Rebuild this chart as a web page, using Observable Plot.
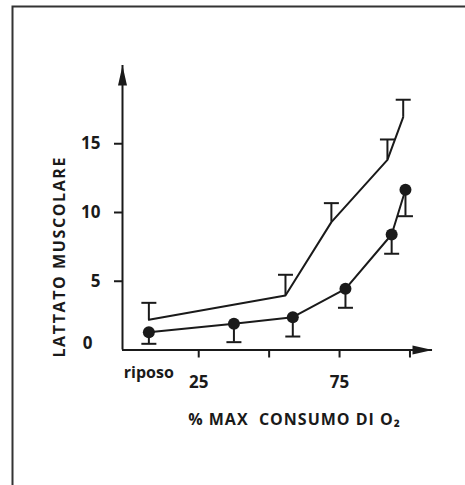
<!DOCTYPE html>
<html><head><meta charset="utf-8">
<script src="https://cdn.jsdelivr.net/npm/d3@7"></script>
<script src="https://cdn.jsdelivr.net/npm/@observablehq/plot@0.6"></script>
<style>
body{margin:0;background:#fff;}
#chart svg{display:block;}
</style>
</head><body><div id="chart"></div>
<script>
// ---- data ----
const xTitle = "% MAX  CONSUMO DI O₂";
const yTitle = "LATTATO MUSCOLARE";
const yTicks = [5, 10, 15];
const yZeroTick = [0];
const xTicks = [25, 50, 75, 100];
const xTickLabels = ["25", "", "75", ""];
const restX = [7.3];
const restLabel = "riposo";

// lower series (filled circles, error bars downward)
const lowX = [7.3, 37.5, 58.4, 77.1, 93.5, 98.4];
const lowY = [1.29, 1.91, 2.39, 4.45, 8.40, 11.65];
const lowErrEnd = [0.45, 0.57, 0.98, 3.07, 7.0, 9.73];

// upper series (line only, error bars upward)
const upX = [7.3, 55.8, 72.1, 92.0, 97.6];
const upY = [2.2, 3.96, 9.3, 13.83, 16.93];
const upErrEnd = [3.43, 5.47, 10.68, 15.31, 18.2];

const xDomain = [-2.06, 108];
const yDomain = [0, 20.69];

// ---- drawing ----
const ink = "#1a1a1a";
const arrowUp = {draw(c){ c.moveTo(0,0); c.lineTo(4.5,20); c.lineTo(-4.5,20); c.closePath(); }};
const arrowRight = {draw(c){ c.moveTo(0,0); c.lineTo(-20,-4.5); c.lineTo(-20,4.5); c.closePath(); }};
const cap = {draw(c){ c.moveTo(-7.5,0); c.lineTo(7.5,0); }};

const low = lowX.map((x, i) => ({x, y: lowY[i], e: lowErrEnd[i]}));
const up = upX.map((x, i) => ({x, y: upY[i], e: upErrEnd[i]}));

const chart = Plot.plot({
  width: 465,
  height: 485,
  marginLeft: 122,
  marginRight: 33,
  marginTop: 65,
  marginBottom: 135.5,
  style: {fontFamily: "'Open Sans', sans-serif", fontWeight: "700", color: ink, background: "#fff"},
  x: {domain: xDomain, axis: null},
  y: {domain: yDomain, axis: null},
  marks: [
    Plot.frame({stroke: "#333", strokeWidth: 2, insetLeft: -110, insetTop: -59, insetRight: -60, insetBottom: -160}),
    // axes lines and arrows
    Plot.ruleX([xDomain[0]], {stroke: ink, strokeWidth: 2}),
    Plot.ruleY([0], {stroke: ink, strokeWidth: 2}),
    Plot.dot([{x: xDomain[0], y: yDomain[1]}], {x: "x", y: "y", symbol: arrowUp, fill: ink, stroke: "none"}),
    Plot.dot([{x: xDomain[1], y: 0}], {x: "x", y: "y", symbol: arrowRight, fill: ink, stroke: "none"}),
    // ticks and labels
    Plot.axisY(yTicks, {tickSize: 8, tickPadding: 14, strokeWidth: 2, stroke: ink, fontSize: 17, label: null}),
    Plot.axisY(yZeroTick, {tickSize: 0, tickPadding: 30, dy: -6, fontSize: 17, label: null}),
    Plot.axisX(xTicks, {tickSize: 8, tickPadding: 18, strokeWidth: 2, stroke: ink, fontSize: 17, label: null,
      tickFormat: d => xTickLabels[xTicks.indexOf(d)]}),
    Plot.axisX(restX, {tickSize: 0, tickPadding: 17, fontSize: 16, label: null, tickFormat: () => restLabel}),
    // titles
    Plot.text([yTitle], {frameAnchor: "left", textAnchor: "middle", lineAnchor: "middle", rotate: -90, dx: -63, dy: 49, fontSize: 16, fill: ink}),
    Plot.text([xTitle], {frameAnchor: "bottom", textAnchor: "middle", lineAnchor: "middle", dx: 17, dy: 70, fontSize: 16, fill: ink}),
    // upper series
    Plot.line(up, {x: "x", y: "y", stroke: ink, strokeWidth: 2}),
    Plot.ruleX(up, {x: "x", y1: "y", y2: "e", stroke: ink, strokeWidth: 2}),
    Plot.dot(up, {x: "x", y: "e", symbol: cap, stroke: ink, strokeWidth: 2, fill: "none"}),
    // lower series
    Plot.line(low, {x: "x", y: "y", stroke: ink, strokeWidth: 2}),
    Plot.ruleX(low, {x: "x", y1: "y", y2: "e", stroke: ink, strokeWidth: 2}),
    Plot.dot(low, {x: "x", y: "e", symbol: cap, stroke: ink, strokeWidth: 2, fill: "none"}),
    Plot.dot(low, {x: "x", y: "y", r: 6, fill: ink, stroke: "none"})
  ]
});
// letter spacing of the two titles (typographic style only)
d3.select(chart).selectAll("text").each(function() {
  const t = this.textContent;
  if (t === yTitle) this.style.letterSpacing = "1.6px";
  if (t === xTitle) this.style.letterSpacing = "1px";
});
document.getElementById("chart").appendChild(chart);
</script>
</body></html>
